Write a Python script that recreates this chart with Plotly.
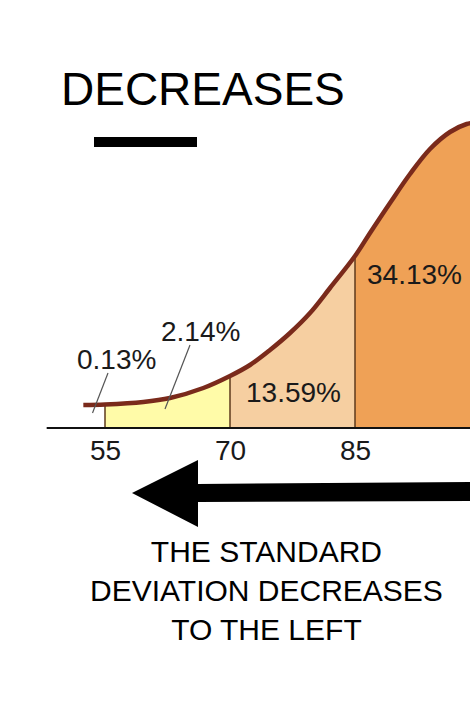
import plotly.graph_objects as go

# ---- data ----
curve_x = [52.4, 55, 59.6, 62.8, 66.8, 70, 72.4, 74.8, 77.2, 79.6, 82, 85, 86.8, 89.2, 91.6, 94, 96.4, 98.4, 100]
curve_y = [23, 23.5, 26, 30, 40, 52, 63, 78, 95, 115, 140, 172, 195, 225, 254, 279, 296, 304, 306]
bounds = [55, 70, 85, 100]
band_colors = ["#FFFBA8", "#F6CFA1", "#EFA156"]
pct_labels = ["0.13%", "2.14%", "13.59%", "34.13%"]
pct_x = [56.4, 66.4, 77.6, 92.1]
pct_y = [69, 97, 36, 154]
tick_vals = [55, 70, 85, 100]
tick_text = ["55", "70", "85", "100"]
title_text = "DECREASES"
note_text = "THE STANDARD<br>DEVIATION DECREASES<br>TO THE LEFT"

W, H = 470, 720
FONT = "Liberation Sans, Arial, Helvetica, sans-serif"

def px(x):
    return x / W

def py(y):
    return 1 - y / H

fig = go.Figure()

# shaded bands under the curve
for i in range(3):
    lo, hi = bounds[i], bounds[i + 1]
    xs = [x for x in curve_x if lo <= x <= hi]
    ys = [y for x, y in zip(curve_x, curve_y) if lo <= x <= hi]
    fig.add_trace(go.Scatter(x=xs, y=ys, mode="lines", line=dict(width=0, shape="spline"),
                             fill="tozeroy", fillcolor=band_colors[i], hoverinfo="skip",
                             showlegend=False))

# vertical boundary lines
for b in bounds[:3]:
    yb = curve_y[curve_x.index(b)]
    fig.add_trace(go.Scatter(x=[b, b], y=[0, yb], mode="lines",
                             line=dict(color="#5E3A1C", width=1.5), showlegend=False,
                             hoverinfo="skip"))

# the curve
fig.add_trace(go.Scatter(x=curve_x, y=curve_y, mode="lines",
                         line=dict(color="#7A2A1B", width=4.5, shape="spline"),
                         showlegend=False, hoverinfo="skip"))

# baseline
fig.add_shape(type="line", xref="x", yref="y", x0=48.0, x1=101, y0=0, y1=0,
              line=dict(color="#111111", width=2))

# leader lines
fig.add_shape(type="line", xref="x", yref="y", x0=55.36, y0=55, x1=53.5, y1=15,
              line=dict(color="#555555", width=1.2))
fig.add_shape(type="line", xref="x", yref="y", x0=65.2, y0=83, x1=62.2, y1=19,
              line=dict(color="#555555", width=1.2))

# percentage labels
for t, x, y in zip(pct_labels, pct_x, pct_y):
    fig.add_annotation(x=x, y=y, xref="x", yref="y", text=t, showarrow=False,
                       font=dict(family=FONT, size=28, color="#1a1a1a"),
                       xanchor="center", yanchor="middle")

# tick labels
for v, t in zip(tick_vals, tick_text):
    fig.add_annotation(x=v, y=-22, xref="x", yref="y", text=t, showarrow=False,
                       font=dict(family=FONT, size=28, color="#1a1a1a"),
                       xanchor="center", yanchor="middle")

# title and bar
fig.add_annotation(x=px(203), y=py(89), xref="paper", yref="paper", text=title_text,
                   showarrow=False, font=dict(family=FONT, size=46, color="#000000"),
                   xanchor="center", yanchor="middle")
fig.add_shape(type="rect", xref="paper", yref="paper", x0=px(94), x1=px(197),
              y0=py(147), y1=py(137), fillcolor="#000000", line=dict(width=0))

# big arrow
pts = [(132, 493), (198, 460), (198, 484), (472, 482), (472, 501), (198, 502), (198, 527)]
path = "M " + " L ".join(f"{px(a):.5f},{py(b):.5f}" for a, b in pts) + " Z"
fig.add_shape(type="path", xref="paper", yref="paper", path=path,
              fillcolor="#000000", line=dict(width=0))

# bottom note
fig.add_annotation(x=px(266), y=py(590), xref="paper", yref="paper", text=note_text,
                   showarrow=False, font=dict(family=FONT, size=30, color="#000000"),
                   xanchor="center", yanchor="middle", align="center")

fig.update_layout(
    width=W, height=H,
    margin=dict(l=0, r=0, t=0, b=0),
    paper_bgcolor="white", plot_bgcolor="white",
    xaxis=dict(range=[55 - 105 / 8.3333, 55 + 365 / 8.3333], visible=False, fixedrange=True),
    yaxis=dict(range=[428 - 720, 428], visible=False, fixedrange=True),
    showlegend=False,
)

fig.write_html("out.html", config={"displayModeBar": False},
               post_script="document.body.style.margin='0';document.body.style.overflow='hidden';")
